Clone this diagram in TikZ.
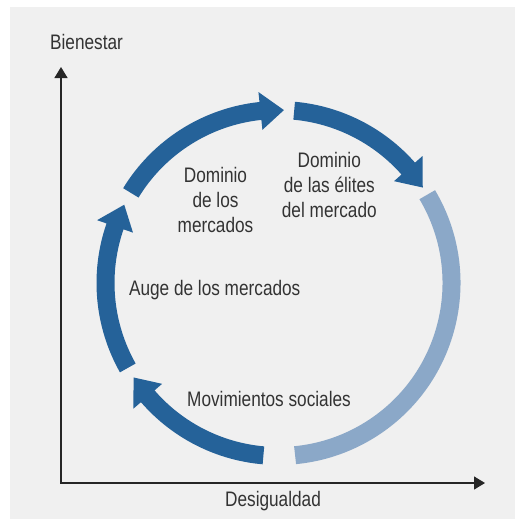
\documentclass[tikz,border=0pt]{standalone}
\usepackage{fontspec}
\setmainfont{Liberation Sans}[FakeStretch=0.82]
\usepackage{xcolor}
\usetikzlibrary{arrows.meta}

\definecolor{azulOscuro}{RGB}{37,98,153}
\definecolor{azulClaro}{RGB}{139,168,200}
\definecolor{fondo}{RGB}{240,240,240}
\definecolor{texto}{RGB}{51,51,51}

%% tramo del anillo con punta: inicio, base de la punta, vértice
\newcommand{\tramoflecha}[3]{%
  \fill[azulOscuro] (#1:164) arc[start angle=#1, end angle=#2, radius=164]
    -- (#2:154) -- (#3:173) -- (#2:192) -- (#2:182)
    arc[start angle=#2, end angle=#1, radius=182] -- cycle;}

\begin{document}
\begin{tikzpicture}[
			x=1pt, y=-1pt,
			etiqueta/.style={inner sep=0pt, text=texto, align=center, font=\fontsize{21}{25.3}\selectfont},
			eje/.style={{Triangle[length=11pt,width=13pt]}-{Triangle[length=11pt,width=13pt]}, line width=1.3pt, color=black!85, line join=miter}
			]
	
	%% Fondo
	\useasboundingbox (0,0) rectangle (515,519);
	\fill[white] (0,0) rectangle (515,519);
	\fill[fondo] (10,7) rectangle (515,519);
	
	%% Ejes
	\coordinate (origen) at (61,483);
	\coordinate (ejeY) at (61,67);
	\coordinate (ejeX) at (485,483);
	\draw[eje] (ejeY) -- (origen) -- (ejeX);
	\node[etiqueta, anchor=base] (bienestar) at (86.5,50) {Bienestar};
	\node[etiqueta, anchor=base] (desigualdad) at (273,506) {Desigualdad};
	
	%% Ciclo
	\begin{scope}[shift={(278.5,283)}, yscale=-1]
		\tramoflecha{265}{220.9}{213.1}
		\tramoflecha{209.4}{160.9}{153.1}
		\tramoflecha{148.6}{96}{88.2}
		\tramoflecha{84.8}{41.4}{33.5}
		\draw[azulClaro, line width=18pt] (30.7:173) arc[start angle=30.7, end angle=-84.5, radius=173];
	\end{scope}
	
	%% Fases
	\node[etiqueta, anchor=north] (dominioMercados) at (215.5,166.7) {Dominio\\de los\\mercados};
	\node[etiqueta, anchor=north] (dominioElites) at (329.3,151.7) {Dominio\\de las élites\\del mercado};
	\node[etiqueta, anchor=base] (auge) at (214.7,295) {Auge de los mercados};
	\node[etiqueta, anchor=base] (movimientos) at (269,406.7) {Movimientos sociales};
	
\end{tikzpicture}
\end{document}
